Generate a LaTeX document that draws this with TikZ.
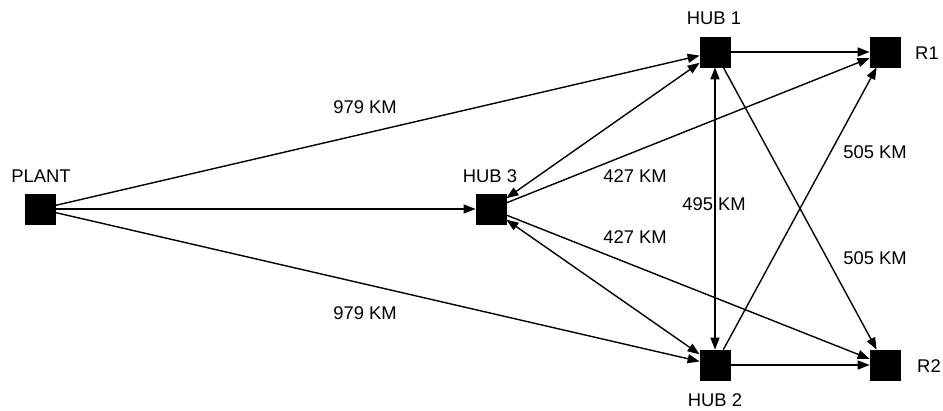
\documentclass[tikz,border=0pt]{standalone}
\usepackage{fontspec}
\setmainfont{Liberation Sans}
\usetikzlibrary{arrows.meta}
\begin{document}
\begin{tikzpicture}[x=0.5pt,y=-0.5pt,
  site/.style={draw,fill=black,rectangle,minimum size=15pt,inner sep=0pt},
  lbl/.style={anchor=center,inner sep=0pt,font=\fontsize{9.2}{11}\selectfont},
  link/.style={draw,line width=0.7pt,-{Triangle[length=6pt,width=4.5pt]}},
  both/.style={draw,line width=0.7pt,{Triangle[length=6pt,width=4.5pt]}-{Triangle[length=6pt,width=4.5pt]}}]
\useasboundingbox (0,0) rectangle (943,411);

\node[site] (plant) at (40,209) {};
\node[site] (hub3) at (491,209) {};
\node[site] (hub1) at (715,52) {};
\node[site] (hub2) at (715,365) {};
\node[site] (r1) at (885,52) {};
\node[site] (r2) at (885,365) {};

\node[lbl] (tplant) at (41,176) {PLANT};
\node[lbl] (thub3) at (490,176) {HUB 3};
\node[lbl] (thub1) at (714,18) {HUB 1};
\node[lbl] (thub2) at (715,400) {HUB 2};
\node[lbl] (tr1) at (927,53) {R1};
\node[lbl] (tr2) at (929,366) {R2};

\path[link] (plant) -- (hub1);
\path[link] (plant) -- (hub3);
\path[link] (plant) -- (hub2);
\path[both] (hub3) -- (hub1);
\path[both] (hub3) -- (hub2);
\path[link] (hub3) -- (r1);
\path[link] (hub3) -- (r2);
\path[both] (hub1) -- (hub2);
\path[link] (hub1) -- (r1);
\path[link] (hub1) -- (r2);
\path[link] (hub2) -- (r1);
\path[link] (hub2) -- (r2);

\node[lbl] (d1) at (365,107) {979 KM};
\node[lbl] (d2) at (365,313) {979 KM};
\node[lbl] (d3) at (635,176) {427 KM};
\node[lbl] (d4) at (635,237) {427 KM};
\node[lbl] (d5) at (714,204) {495 KM};
\node[lbl] (d6) at (875,152) {505 KM};
\node[lbl] (d7) at (875,258) {505 KM};
\end{tikzpicture}
\end{document}
